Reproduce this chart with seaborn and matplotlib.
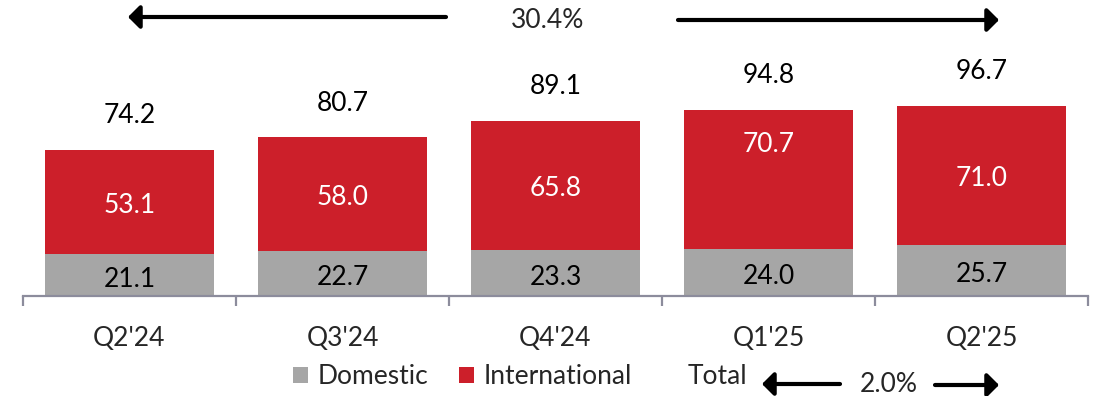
import matplotlib
matplotlib.use("Agg")
import matplotlib.pyplot as plt
from matplotlib.patches import Patch, FancyArrowPatch
import seaborn as sns
import pandas as pd

# Quarterly revenue split
quarters = ["Q2'24", "Q3'24", "Q4'24", "Q1'25", "Q2'25"]
domestic = [21.1, 22.7, 23.3, 24.0, 25.7]
international = [53.1, 58.0, 65.8, 70.7, 71.0]
totals = [74.2, 80.7, 89.1, 94.8, 96.7]
growth_yoy = "30.4%"
growth_qoq = "2.0%"
# where inside the red segment each international label sits (0=bottom, 1=top)
intl_label_pos = [0.5, 0.5, 0.5, 0.77, 0.5]

GRAY = "#A6A6A6"
RED = "#CC1F2A"
AXIS = "#8C8C9C"

sns.set_theme(style="white")
plt.rcParams["font.family"] = ["Lato", "DejaVu Sans"]
FS = 19

df = pd.DataFrame({"quarter": quarters, "domestic": domestic,
                   "international": international, "total": totals})

fig = plt.figure(figsize=(10.96, 3.96), dpi=100)
ax = fig.add_axes([23 / 1096, 100 / 396, 1065 / 1096, 296 / 396])

sns.barplot(data=df, x="quarter", y="domestic", color=GRAY, width=0.79,
            saturation=1, ax=ax, edgecolor="none")
sns.barplot(data=df, x="quarter", y="international", bottom=df["domestic"],
            color=RED, width=0.79, saturation=1, ax=ax, edgecolor="none")

ax.set_xlim(-0.5, 4.5)
ax.set_ylim(0, 150.4)
ax.set_ylabel("")
ax.set_xlabel("")
ax.set_yticks([])
for s in ["top", "left", "right"]:
    ax.spines[s].set_visible(False)
ax.spines["bottom"].set_color(AXIS)
ax.spines["bottom"].set_linewidth(1.6)

# boundary tick marks between categories, labels at the centres
ax.set_xticks([i - 0.5 for i in range(len(quarters) + 1)])
ax.set_xticklabels([])
ax.tick_params(axis="x", which="major", direction="out", length=7.5,
               width=1.6, color=AXIS, bottom=True)
ax.set_xticks(range(len(quarters)), minor=True)
ax.set_xticklabels(quarters, minor=True, fontsize=FS)
ax.tick_params(axis="x", which="minor", length=0, pad=21.5)

for i in range(len(quarters)):
    d, n, t = domestic[i], international[i], totals[i]
    ax.text(i, d / 2 - 2.1, f"{d:.1f}", ha="center", va="center",
            fontsize=FS, color="black")
    ax.text(i, d + n * intl_label_pos[i] - 1.5, f"{n:.1f}", ha="center",
            va="center", fontsize=FS, color="white")
    ax.annotate(f"{t:.1f}", xy=(i, d + n), xytext=(0, 24.5),
                textcoords="offset points", ha="center", va="center",
                fontsize=FS, color="black")


def px(x, y):
    return (x / 1096, 1 - y / 396)


def arrow(x0, y0, x1, y1, hl=7, hw=7):
    fig.patches.append(FancyArrowPatch(
        px(x0, y0), px(x1, y1), transform=fig.transFigure,
        arrowstyle=f"-|>,head_length={hl / 10:.2f},head_width={hw / 10:.2f}",
        mutation_scale=10, color="black", lw=3, shrinkA=0, shrinkB=0))


# growth arrows
arrow(446, 17, 128, 17)
arrow(678, 20, 999, 20)
fig.text(*px(548, 20), growth_yoy, ha="center", va="center", fontsize=FS,
         family=["Liberation Sans Narrow", "Lato", "DejaVu Sans"])

arrow(840, 384, 762, 384)
arrow(935, 385, 999, 385)
fig.text(*px(889, 384), growth_qoq, ha="center", va="center", fontsize=FS,
         family=["Liberation Sans Narrow", "Lato", "DejaVu Sans"])

handles = [Patch(facecolor=GRAY, edgecolor="none"),
           Patch(facecolor=RED, edgecolor="none"),
           Patch(facecolor="none", edgecolor="none")]
fig.legend(handles, ["Domestic", "International", "Total"], ncol=3,
           loc="center left", bbox_to_anchor=px(293, 377), frameon=False,
           fontsize=FS, handlelength=0.57, handleheight=0.57,
           handletextpad=0.38, columnspacing=1.14, borderpad=0,
           borderaxespad=0)

fig.savefig("out.png", dpi=100)
